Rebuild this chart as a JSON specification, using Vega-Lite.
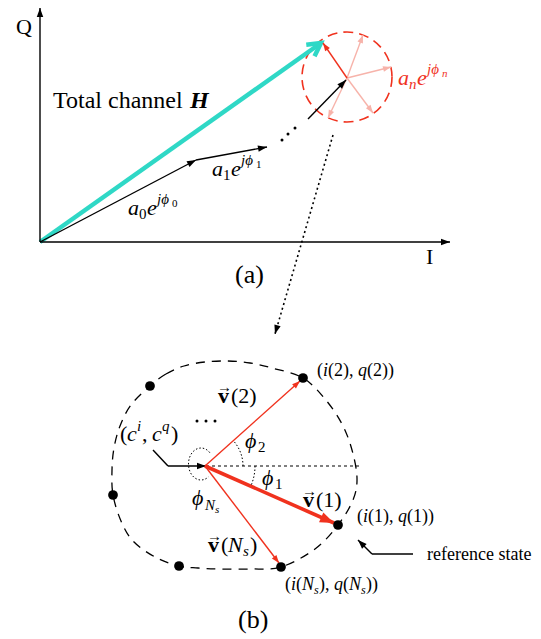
{
"$schema":"https://vega.github.io/schema/vega-lite/v6.json",
"width":541,"height":639,
"autosize":{"type":"fit","contains":"padding"},
"padding":0,
"background":"white",
"config":{"view":{"stroke":null}},
"datasets":{
"blk":[{"x":40,"y":242,"xe":40,"ye":8},{"x":40,"y":242,"xe":450,"ye":242},{"x":40,"y":242,"xe":196,"ye":160},{"x":196,"y":160,"xe":267,"ye":147},{"x":308,"y":119,"xe":346,"ye":80},{"x":168,"y":466,"xe":206,"ye":466},{"x":372,"y":554,"xe":358,"ye":540}],
"blkseg":[{"x":153,"y":450,"xe":168,"ye":466},{"x":413,"y":554,"xe":372,"ye":554}],
"red":[{"x":347,"y":78,"xe":323,"ye":43},{"x":205,"y":466,"xe":300,"ye":381},{"x":205,"y":466,"xe":279,"ye":563}],
"redthick":[{"x":205,"y":466,"xe":334,"ye":523}],
"pink":[{"x":347,"y":78,"xe":363,"ye":35},{"x":347,"y":78,"xe":391,"ye":67},{"x":347,"y":78,"xe":373,"ye":113},{"x":347,"y":78,"xe":328,"ye":118}],
"cyan":[{"x":40,"y":242,"xe":321,"ye":43}],
"dotarr":[{"x":333,"y":135,"xe":275,"ye":334}],
"dotline":[{"x":206,"y":466,"xe":362,"ye":466}],
"loop":[{"o":1,"x":150,"y":386},{"o":2,"x":166,"y":374},{"o":3,"x":184,"y":366},{"o":4,"x":205,"y":362},{"o":5,"x":228,"y":361},{"o":6,"x":250,"y":363},{"o":7,"x":272,"y":368},{"o":8,"x":303,"y":378},{"o":9,"x":325,"y":399},{"o":10,"x":342,"y":424},{"o":11,"x":352,"y":450},{"o":12,"x":357,"y":478},{"o":13,"x":353,"y":500},{"o":14,"x":338,"y":525},{"o":15,"x":315,"y":549},{"o":16,"x":281,"y":567},{"o":17,"x":250,"y":569},{"o":18,"x":220,"y":569},{"o":19,"x":198,"y":568},{"o":20,"x":179,"y":566},{"o":21,"x":155,"y":557},{"o":22,"x":133,"y":541},{"o":23,"x":121,"y":521},{"o":24,"x":113,"y":495},{"o":25,"x":112,"y":470},{"o":26,"x":114,"y":448},{"o":27,"x":120,"y":426},{"o":28,"x":131,"y":405}],
"rcirc":[{"x":347,"y":77}],
"bigdots":[{"x":150,"y":386},{"x":113,"y":495},{"x":179,"y":566},{"x":303,"y":378},{"x":338,"y":525},{"x":281,"y":567}],
"smalldots":[{"x":282,"y":140},{"x":288,"y":134},{"x":295,"y":128},{"x":197,"y":421},{"x":206,"y":421},{"x":215,"y":421}],
"txt":[
{"t":"Q","x":16,"y":34,"g":"up22"},
{"t":"I","x":426,"y":264,"g":"up22"},
{"t":"(a)","x":235,"y":283,"g":"up26"},
{"t":"(b)","x":238,"y":628,"g":"up26"},
{"t":"Total channel","x":53,"y":108,"g":"up24"},
{"t":"H","x":190,"y":108,"g":"bi24"},
{"t":"a","x":128,"y":215,"g":"it22"},
{"t":"0","x":139,"y":219,"g":"up15"},
{"t":"e","x":147,"y":215,"g":"it22"},
{"t":"jϕ","x":157,"y":204,"g":"it15"},
{"t":"0","x":172,"y":207,"g":"up11"},
{"t":"a","x":212,"y":176,"g":"it22"},
{"t":"1","x":223,"y":180,"g":"up15"},
{"t":"e","x":231,"y":176,"g":"it22"},
{"t":"jϕ","x":241,"y":165,"g":"it15"},
{"t":"1","x":256,"y":168,"g":"up11"},
{"t":"a","x":398,"y":85,"g":"rit22"},
{"t":"n","x":409,"y":89,"g":"rit15"},
{"t":"e","x":417,"y":85,"g":"rit22"},
{"t":"jϕ","x":427,"y":74,"g":"rit15"},
{"t":"n","x":442,"y":77,"g":"rit11"},
{"t":"(","x":120,"y":441,"g":"up22"},
{"t":"c","x":127,"y":441,"g":"it22"},
{"t":"i","x":137,"y":431,"g":"it15"},
{"t":",","x":142,"y":441,"g":"up22"},
{"t":"c","x":152,"y":441,"g":"it22"},
{"t":"q","x":162,"y":431,"g":"it15"},
{"t":")","x":171,"y":441,"g":"up22"},
{"t":"v","x":218,"y":403,"g":"b22"},
{"t":"(2)","x":231,"y":403,"g":"up22"},
{"t":"→","x":217,"y":392,"g":"arr"},
{"t":"v","x":303,"y":507,"g":"b22"},
{"t":"(1)","x":316,"y":507,"g":"up22"},
{"t":"→","x":302,"y":496,"g":"arr"},
{"t":"v","x":208,"y":552,"g":"b22"},
{"t":"(","x":221,"y":552,"g":"up22"},
{"t":"N","x":228,"y":552,"g":"it22"},
{"t":"s","x":243,"y":556,"g":"it15"},
{"t":")","x":250,"y":552,"g":"up22"},
{"t":"→","x":207,"y":541,"g":"arr"},
{"t":"ϕ","x":245,"y":448,"g":"it22"},
{"t":"2","x":258,"y":452,"g":"up15"},
{"t":"ϕ","x":262,"y":485,"g":"it22"},
{"t":"1","x":275,"y":489,"g":"up15"},
{"t":"ϕ","x":192,"y":505,"g":"it22"},
{"t":"N","x":205,"y":510,"g":"it15"},
{"t":"s","x":215,"y":513,"g":"it11"},
{"t":"(","x":317,"y":376,"g":"up18"},
{"t":"i","x":323,"y":376,"g":"it18"},
{"t":"(2),","x":328,"y":376,"g":"up18"},
{"t":"q","x":358,"y":376,"g":"it18"},
{"t":"(2))","x":367,"y":376,"g":"up18"},
{"t":"(","x":357,"y":522,"g":"up18"},
{"t":"i","x":363,"y":522,"g":"it18"},
{"t":"(1),","x":368,"y":522,"g":"up18"},
{"t":"q","x":398,"y":522,"g":"it18"},
{"t":"(1))","x":407,"y":522,"g":"up18"},
{"t":"(","x":285,"y":590,"g":"up18"},
{"t":"i","x":291,"y":590,"g":"it18"},
{"t":"(","x":296,"y":590,"g":"up18"},
{"t":"N","x":302,"y":590,"g":"it18"},
{"t":"s","x":314,"y":594,"g":"it12"},
{"t":"),","x":319,"y":590,"g":"up18"},
{"t":"q","x":334,"y":590,"g":"it18"},
{"t":"(","x":343,"y":590,"g":"up18"},
{"t":"N","x":349,"y":590,"g":"it18"},
{"t":"s","x":361,"y":594,"g":"it12"},
{"t":"))","x":366,"y":590,"g":"up18"},
{"t":"reference state","x":427,"y":560,"g":"up18"}
]
},
"encoding":{
"x":{"field":"x","type":"quantitative","scale":{"domain":[0,541],"nice":false,"zero":false},"axis":null},
"y":{"field":"y","type":"quantitative","scale":{"domain":[0,639],"nice":false,"zero":false,"reverse":true},"axis":null}
},
"layer":[
{"data":{"name":"loop"},"mark":{"type":"line","interpolate":"cardinal-closed","color":"black","strokeWidth":1.3,"strokeDash":[9,7]},"encoding":{"order":{"field":"o","type":"quantitative"}}},
{"data":{"name":"rcirc"},"mark":{"type":"point","shape":"circle","size":8100,"filled":false,"color":"#f0321e","strokeWidth":1.6,"strokeDash":[10,6],"opacity":1}},
{"data":{"name":"dotline"},"mark":{"type":"rule","color":"black","strokeWidth":1.2,"strokeDash":[3,3]},"encoding":{"x2":{"field":"xe"},"y2":{"field":"ye"}}},
{"data":{"name":"dotarr"},"mark":{"type":"rule","color":"black","strokeWidth":1.6,"strokeDash":[2,3]},"encoding":{"x2":{"field":"xe"},"y2":{"field":"ye"}}},
{"data":{"name":"dotarr"},"transform":[{"calculate":"atan2(datum.xe-datum.x, datum.y-datum.ye)*180/PI","as":"ang"}],"mark":{"type":"point","shape":"M0,0 L-0.36,1 L0.36,1 Z","filled":true,"color":"black","size":324,"opacity":1},"encoding":{"x":{"field":"xe","type":"quantitative","scale":{"domain":[0,541],"nice":false,"zero":false},"axis":null},"y":{"field":"ye","type":"quantitative","scale":{"domain":[0,639],"nice":false,"zero":false,"reverse":true},"axis":null},"angle":{"field":"ang","type":"quantitative","scale":null}}},
{"data":{"name":"pink"},"mark":{"type":"rule","color":"#f7b3aa","strokeWidth":1.4},"encoding":{"x2":{"field":"xe"},"y2":{"field":"ye"}}},
{"data":{"name":"pink"},"transform":[{"calculate":"atan2(datum.xe-datum.x, datum.y-datum.ye)*180/PI","as":"ang"}],"mark":{"type":"point","shape":"M0,0 L-0.36,1 L0.36,1 Z","filled":true,"color":"#f7b3aa","size":256,"opacity":1},"encoding":{"x":{"field":"xe","type":"quantitative","scale":{"domain":[0,541],"nice":false,"zero":false},"axis":null},"y":{"field":"ye","type":"quantitative","scale":{"domain":[0,639],"nice":false,"zero":false,"reverse":true},"axis":null},"angle":{"field":"ang","type":"quantitative","scale":null}}},
{"data":{"name":"cyan"},"mark":{"type":"rule","color":"#2fd8c6","strokeWidth":4.5},"encoding":{"x2":{"field":"xe"},"y2":{"field":"ye"}}},
{"data":{"name":"cyan"},"transform":[{"calculate":"atan2(datum.xe-datum.x, datum.y-datum.ye)*180/PI","as":"ang"}],"mark":{"type":"point","shape":"M-0.55,1 L0,0 L0.55,1","filled":false,"color":"#2fd8c6","strokeWidth":4.5,"size":676,"opacity":1},"encoding":{"x":{"field":"xe","type":"quantitative","scale":{"domain":[0,541],"nice":false,"zero":false},"axis":null},"y":{"field":"ye","type":"quantitative","scale":{"domain":[0,639],"nice":false,"zero":false,"reverse":true},"axis":null},"angle":{"field":"ang","type":"quantitative","scale":null}}},
{"data":{"name":"blkseg"},"mark":{"type":"rule","color":"black","strokeWidth":1.4},"encoding":{"x2":{"field":"xe"},"y2":{"field":"ye"}}},
{"data":{"name":"blk"},"mark":{"type":"rule","color":"black","strokeWidth":1.4},"encoding":{"x2":{"field":"xe"},"y2":{"field":"ye"}}},
{"data":{"name":"blk"},"transform":[{"calculate":"atan2(datum.xe-datum.x, datum.y-datum.ye)*180/PI","as":"ang"}],"mark":{"type":"point","shape":"M0,0 L-0.36,1 L0.36,1 Z","filled":true,"color":"black","size":324,"opacity":1},"encoding":{"x":{"field":"xe","type":"quantitative","scale":{"domain":[0,541],"nice":false,"zero":false},"axis":null},"y":{"field":"ye","type":"quantitative","scale":{"domain":[0,639],"nice":false,"zero":false,"reverse":true},"axis":null},"angle":{"field":"ang","type":"quantitative","scale":null}}},
{"data":{"name":"red"},"mark":{"type":"rule","color":"#f0321e","strokeWidth":1.4},"encoding":{"x2":{"field":"xe"},"y2":{"field":"ye"}}},
{"data":{"name":"red"},"transform":[{"calculate":"atan2(datum.xe-datum.x, datum.y-datum.ye)*180/PI","as":"ang"}],"mark":{"type":"point","shape":"M0,0 L-0.36,1 L0.36,1 Z","filled":true,"color":"#f0321e","size":256,"opacity":1},"encoding":{"x":{"field":"xe","type":"quantitative","scale":{"domain":[0,541],"nice":false,"zero":false},"axis":null},"y":{"field":"ye","type":"quantitative","scale":{"domain":[0,639],"nice":false,"zero":false,"reverse":true},"axis":null},"angle":{"field":"ang","type":"quantitative","scale":null}}},
{"data":{"name":"redthick"},"mark":{"type":"rule","color":"#f0321e","strokeWidth":3.6},"encoding":{"x2":{"field":"xe"},"y2":{"field":"ye"}}},
{"data":{"name":"redthick"},"transform":[{"calculate":"atan2(datum.xe-datum.x, datum.y-datum.ye)*180/PI","as":"ang"}],"mark":{"type":"point","shape":"M0,0 L-0.38,1 L0.38,1 Z","filled":true,"color":"#f0321e","size":784,"opacity":1},"encoding":{"x":{"field":"xe","type":"quantitative","scale":{"domain":[0,541],"nice":false,"zero":false},"axis":null},"y":{"field":"ye","type":"quantitative","scale":{"domain":[0,639],"nice":false,"zero":false,"reverse":true},"axis":null},"angle":{"field":"ang","type":"quantitative","scale":null}}},
{"data":{"values":[{"x":205,"y":466}]},"mark":{"type":"point","shape":"M1,0 A1,1 0 0,0 0.743,-0.669","filled":false,"color":"black","strokeWidth":1,"strokeDash":[1.5,2],"size":5776,"opacity":1}},
{"data":{"values":[{"x":205,"y":466}]},"mark":{"type":"point","shape":"M1,0 A1,1 0 0,1 0.914,0.407","filled":false,"color":"black","strokeWidth":1,"strokeDash":[1.5,2],"size":10000,"opacity":1}},
{"data":{"values":[{"x":201,"y":464}]},"mark":{"type":"point","shape":"M0.707,-0.905 A1,1.28 0 1,0 0.6,1.024","filled":false,"color":"black","strokeWidth":1,"strokeDash":[1.5,2],"size":625,"opacity":1}},
{"data":{"name":"bigdots"},"mark":{"type":"point","shape":"circle","filled":true,"color":"black","size":95,"opacity":1}},
{"data":{"name":"smalldots"},"mark":{"type":"point","shape":"circle","filled":true,"color":"black","size":9,"opacity":1}},
{"data":{"name":"txt"},"transform":[{"filter":"datum.g==='up22'"}],"mark":{"type":"text","align":"left","baseline":"alphabetic","font":"Liberation Serif","fontSize":22,"color":"black"},"encoding":{"text":{"field":"t"}}},
{"data":{"name":"txt"},"transform":[{"filter":"datum.g==='up26'"}],"mark":{"type":"text","align":"left","baseline":"alphabetic","font":"Liberation Serif","fontSize":26,"color":"black"},"encoding":{"text":{"field":"t"}}},
{"data":{"name":"txt"},"transform":[{"filter":"datum.g==='up24'"}],"mark":{"type":"text","align":"left","baseline":"alphabetic","font":"Liberation Serif","fontSize":24,"color":"black"},"encoding":{"text":{"field":"t"}}},
{"data":{"name":"txt"},"transform":[{"filter":"datum.g==='bi24'"}],"mark":{"type":"text","align":"left","baseline":"alphabetic","font":"Liberation Serif","fontSize":24,"fontStyle":"italic","fontWeight":"bold","color":"black"},"encoding":{"text":{"field":"t"}}},
{"data":{"name":"txt"},"transform":[{"filter":"datum.g==='up18'"}],"mark":{"type":"text","align":"left","baseline":"alphabetic","font":"Liberation Serif","fontSize":18,"color":"black"},"encoding":{"text":{"field":"t"}}},
{"data":{"name":"txt"},"transform":[{"filter":"datum.g==='up15'"}],"mark":{"type":"text","align":"left","baseline":"alphabetic","font":"Liberation Serif","fontSize":15,"color":"black"},"encoding":{"text":{"field":"t"}}},
{"data":{"name":"txt"},"transform":[{"filter":"datum.g==='up11'"}],"mark":{"type":"text","align":"left","baseline":"alphabetic","font":"Liberation Serif","fontSize":11,"color":"black"},"encoding":{"text":{"field":"t"}}},
{"data":{"name":"txt"},"transform":[{"filter":"datum.g==='it22'"}],"mark":{"type":"text","align":"left","baseline":"alphabetic","font":"Liberation Serif","fontSize":22,"fontStyle":"italic","color":"black"},"encoding":{"text":{"field":"t"}}},
{"data":{"name":"txt"},"transform":[{"filter":"datum.g==='it18'"}],"mark":{"type":"text","align":"left","baseline":"alphabetic","font":"Liberation Serif","fontSize":18,"fontStyle":"italic","color":"black"},"encoding":{"text":{"field":"t"}}},
{"data":{"name":"txt"},"transform":[{"filter":"datum.g==='it15'"}],"mark":{"type":"text","align":"left","baseline":"alphabetic","font":"Liberation Serif","fontSize":15,"fontStyle":"italic","color":"black"},"encoding":{"text":{"field":"t"}}},
{"data":{"name":"txt"},"transform":[{"filter":"datum.g==='it12'"}],"mark":{"type":"text","align":"left","baseline":"alphabetic","font":"Liberation Serif","fontSize":12,"fontStyle":"italic","color":"black"},"encoding":{"text":{"field":"t"}}},
{"data":{"name":"txt"},"transform":[{"filter":"datum.g==='it11'"}],"mark":{"type":"text","align":"left","baseline":"alphabetic","font":"Liberation Serif","fontSize":11,"fontStyle":"italic","color":"black"},"encoding":{"text":{"field":"t"}}},
{"data":{"name":"txt"},"transform":[{"filter":"datum.g==='b22'"}],"mark":{"type":"text","align":"left","baseline":"alphabetic","font":"Liberation Serif","fontSize":22,"fontWeight":"bold","color":"black"},"encoding":{"text":{"field":"t"}}},
{"data":{"name":"txt"},"transform":[{"filter":"datum.g==='arr'"}],"mark":{"type":"text","align":"left","baseline":"alphabetic","font":"Liberation Serif","fontSize":15,"color":"black"},"encoding":{"text":{"field":"t"}}},
{"data":{"name":"txt"},"transform":[{"filter":"datum.g==='rit22'"}],"mark":{"type":"text","align":"left","baseline":"alphabetic","font":"Liberation Serif","fontSize":22,"fontStyle":"italic","color":"#f0321e"},"encoding":{"text":{"field":"t"}}},
{"data":{"name":"txt"},"transform":[{"filter":"datum.g==='rit15'"}],"mark":{"type":"text","align":"left","baseline":"alphabetic","font":"Liberation Serif","fontSize":15,"fontStyle":"italic","color":"#f0321e"},"encoding":{"text":{"field":"t"}}},
{"data":{"name":"txt"},"transform":[{"filter":"datum.g==='rit11'"}],"mark":{"type":"text","align":"left","baseline":"alphabetic","font":"Liberation Serif","fontSize":11,"fontStyle":"italic","color":"#f0321e"},"encoding":{"text":{"field":"t"}}}
]
}
